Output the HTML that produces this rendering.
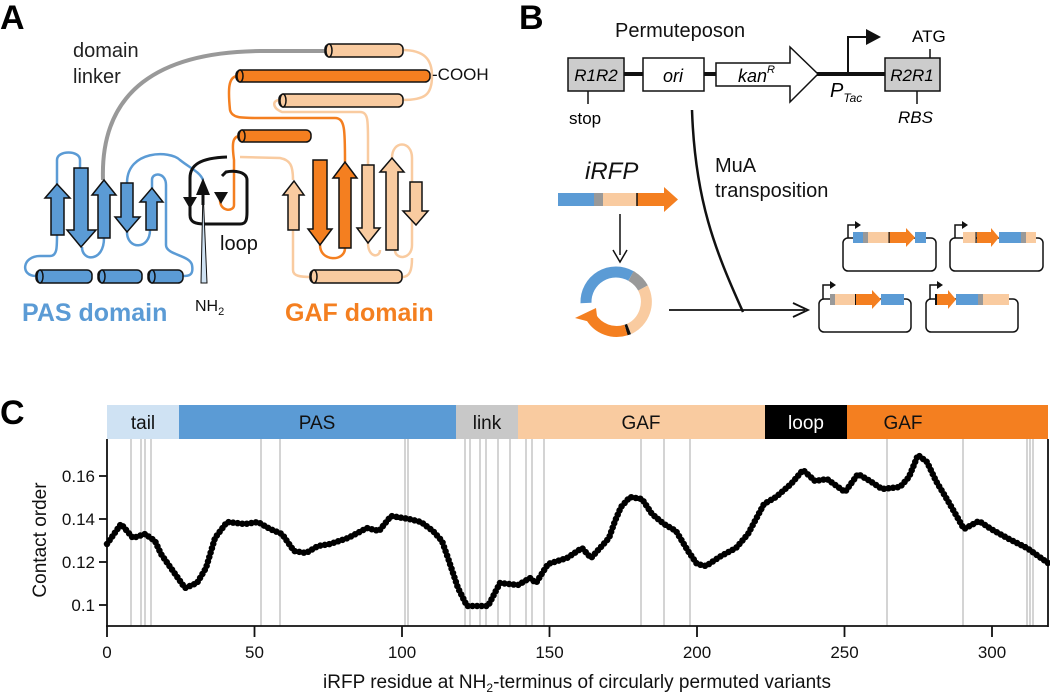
<!DOCTYPE html>
<html><head><meta charset="utf-8"><style>
html,body{margin:0;padding:0;background:#fff}
svg{display:block}
text{font-family:"Liberation Sans",Arial,sans-serif}
</style></head><body>
<svg width="1050" height="692" viewBox="0 0 1050 692" xmlns="http://www.w3.org/2000/svg">
<!-- ============ PANEL A ============ -->
<text x="0" y="29" font-size="34" font-weight="bold">A</text>
<text x="73" y="57" font-size="20" fill="#222">domain</text>
<text x="73" y="83" font-size="20" fill="#222">linker</text>
<path d="M103 180 C100 90 160 52 260 51 L326 51" fill="none" stroke="#999" stroke-width="4"/>
<g fill="none" stroke="#f9cba0" stroke-width="2.5">
<path d="M402 50 C425 50 432 60 432 76 C432 95 425 100 402 100"/>
<path d="M280 100 C272 100 272 108 282 112 L360 112 C368 112 368 120 368 140 L368 168"/>
<path d="M240 157 L280 158 C290 160 293 165 293 180"/>
<path d="M392 158 C392 140 412 140 412 158 L412 245 C412 260 395 260 395 250"/>
<path d="M368 243 C368 258 380 258 380 250"/>
<path d="M293 230 L293 270 C293 276 300 277 312 277"/>
<path d="M402 277 C410 277 412 270 412 258"/>
</g>
<g fill="none" stroke="#f47f20" stroke-width="2.5">
<path d="M238 76 C228 76 228 90 230 110 C232 118 240 118 260 118 L335 118 C345 118 345 130 345 162"/>
<path d="M240 136 C232 136 232 145 234 160 L234 205 C234 212 220 212 220 200"/>
<path d="M320 245 C320 262 345 262 345 248"/>
</g>
<g fill="none" stroke="#5b9bd5" stroke-width="2.5">
<path d="M36 276 C20 276 22 256 40 256 L50 256 C57 256 57 248 57 235"/>
<path d="M57 184 L57 160 C57 150 80 150 80 160 L80 168"/>
<path d="M82 247 C82 262 104 262 104 238"/>
<path d="M127 183 C127 150 170 150 180 160 C190 168 200 172 203 180"/>
<path d="M127 232 C127 250 150 250 150 230"/>
<path d="M152 188 L152 180 C152 172 166 172 166 185 L166 245 C166 255 190 255 192 265 C194 276 188 276 183 276"/>
</g>
<g stroke="#111" stroke-width="1.5">
<rect x="325" y="44" width="78" height="13" rx="5" fill="#f9cba0"/>
<ellipse cx="329" cy="50.5" rx="3" ry="6.5" fill="#f9cba0"/>
<rect x="236" y="70" width="194" height="12" rx="5" fill="#f47f20"/>
<ellipse cx="240" cy="76" rx="3" ry="6" fill="#f47f20"/>
<rect x="279" y="94" width="124" height="13" rx="5" fill="#f9cba0"/>
<ellipse cx="283" cy="100.5" rx="3" ry="6.5" fill="#f9cba0"/>
<rect x="238" y="130" width="73" height="12" rx="5" fill="#f47f20"/>
<ellipse cx="242" cy="136" rx="3" ry="6" fill="#f47f20"/>
<rect x="310" y="270" width="92" height="13" rx="5" fill="#f9cba0"/>
<ellipse cx="314" cy="276.5" rx="3" ry="6.5" fill="#f9cba0"/>
<rect x="36" y="270" width="56" height="13" rx="5" fill="#5b9bd5"/>
<ellipse cx="40" cy="276.5" rx="3" ry="6.5" fill="#5b9bd5"/>
<rect x="98" y="270" width="44" height="13" rx="5" fill="#5b9bd5"/>
<ellipse cx="102" cy="276.5" rx="3" ry="6.5" fill="#5b9bd5"/>
<rect x="148" y="270" width="35" height="13" rx="5" fill="#5b9bd5"/>
<ellipse cx="152" cy="276.5" rx="3" ry="6.5" fill="#5b9bd5"/>
</g>
<text x="432" y="80" font-size="17" fill="#111">-COOH</text>
<g stroke="#111" stroke-width="1.5">
<path d="M51 235 L51 198 L45 198 L57 184 L70 198 L64 198 L64 235 Z" fill="#5b9bd5"/>
<path d="M74 168 L88 168 L88 230 L96 230 L81 247 L67 230 L74 230 Z" fill="#5b9bd5"/>
<path d="M98 238 L98 195 L92 195 L104 180 L116 195 L110 195 L110 238 Z" fill="#5b9bd5"/>
<path d="M121 183 L133 183 L133 217 L140 217 L127 232 L115 217 L121 217 Z" fill="#5b9bd5"/>
<path d="M146 230 L146 202 L140 202 L152 188 L163 202 L157 202 L157 230 Z" fill="#5b9bd5"/>
<path d="M288 230 L288 195 L283 195 L294 181 L304 195 L299 195 L299 230 Z" fill="#f9cba0"/>
<path d="M313 160 L327 160 L327 229 L332 229 L320 245 L308 229 L313 229 Z" fill="#f47f20"/>
<path d="M339 248 L339 178 L333 178 L345 162 L357 178 L351 178 L351 248 Z" fill="#f47f20"/>
<path d="M362 165 L374 165 L374 228 L380 228 L368 243 L357 228 L362 228 Z" fill="#f9cba0"/>
<path d="M386 250 L386 172 L380 172 L392 158 L404 172 L398 172 L398 250 Z" fill="#f9cba0"/>
<path d="M410 182 L422 182 L422 211 L428 211 L416 225 L403 211 L410 211 Z" fill="#f9cba0"/>
</g>
<path d="M227 157 C200 158 190 165 190 178 L190 215 C190 222 195 224 205 224 L240 224 C246 224 247 220 247 212 L247 180 C247 172 235 170 226 172 L222 176" fill="none" stroke="#111" stroke-width="3"/>
<path d="M183 197 L197 197 L190 209 Z" fill="#111"/>
<path d="M214 192 L228 192 L221 204 Z" fill="#111"/>
<path d="M196 195 L203 178 L210 195 Z" fill="#111"/>
<path d="M203 195 L203 205" stroke="#111" stroke-width="3"/>
<path d="M201 283 L203 190 L207 283 Z" fill="#cfe2f3" stroke="#111" stroke-width="1"/>
<text x="220" y="250" font-size="20" fill="#111">loop</text>
<text x="195" y="311" font-size="16" fill="#111">NH<tspan font-size="11" dy="4">2</tspan></text>
<text x="22" y="321" font-size="25" font-weight="bold" fill="#5b9bd5">PAS domain</text>
<text x="285" y="321" font-size="25" font-weight="bold" fill="#f47f20">GAF domain</text>

<!-- ============ PANEL B ============ -->
<text x="519" y="29" font-size="34" font-weight="bold">B</text>
<text x="615" y="37" font-size="20" fill="#111">Permuteposon</text>
<g stroke="#111">
<line x1="624" y1="74" x2="643" y2="74" stroke-width="4"/>
<line x1="704" y1="74" x2="716" y2="74" stroke-width="4"/>
<line x1="816" y1="74" x2="885" y2="74" stroke-width="4"/>
<rect x="568" y="58" width="56" height="33" fill="#ccc" stroke-width="1.5"/>
<rect x="643" y="58" width="61" height="33" fill="#fff" stroke-width="1.5"/>
<rect x="885" y="58" width="55" height="33" fill="#ccc" stroke-width="1.5"/>
<path d="M716 63 L790 63 L790 47 L818 74 L790 102 L790 86 L716 86 Z" fill="#fff" stroke-width="1.5"/>
<path d="M848 74 L848 37 L868 37" fill="none" stroke-width="2"/>
<line x1="930" y1="49" x2="930" y2="58" stroke-width="1.5"/>
<line x1="588" y1="91" x2="588" y2="104" stroke-width="1.5"/>
<line x1="917" y1="91" x2="917" y2="104" stroke-width="1.5"/>
</g>
<path d="M866 29 L881 37 L866 45 Z" fill="#111"/>
<text x="596" y="81" font-size="17" font-style="italic" text-anchor="middle">R1R2</text>
<text x="673" y="82" font-size="18" font-style="italic" text-anchor="middle">ori</text>
<text x="738" y="82" font-size="18" font-style="italic">kan<tspan font-size="11" dy="-9">R</tspan></text>
<text x="912" y="81" font-size="17" font-style="italic" text-anchor="middle">R2R1</text>
<text x="912" y="42" font-size="17">ATG</text>
<text x="569" y="124" font-size="17">stop</text>
<text x="898" y="123" font-size="17" font-style="italic">RBS</text>
<text x="830" y="97" font-size="20" font-style="italic">P<tspan font-size="12" dy="5">Tac</tspan></text>
<path d="M692 110 C695 200 715 250 743 312" fill="none" stroke="#111" stroke-width="2.5"/>
<text x="715" y="172" font-size="20" fill="#111">MuA</text>
<text x="715" y="197" font-size="20" fill="#111">transposition</text>
<text x="585" y="179" font-size="24" font-style="italic" fill="#111">iRFP</text>
<rect x="558" y="193" width="36" height="13" fill="#5b9bd5"/>
<rect x="594" y="193" width="9" height="13" fill="#999"/>
<rect x="603" y="193" width="34" height="13" fill="#f9cba0"/>
<path d="M637 193 L664 193 L664 187 L678 199.5 L664 212 L664 206 L637 206 Z" fill="#f47f20"/>
<line x1="637" y1="193" x2="637" y2="206" stroke="#111" stroke-width="1.5"/>
<line x1="620" y1="214" x2="620" y2="255" stroke="#111" stroke-width="1.5"/>
<path d="M613 250 L620 262 L627 250" fill="none" stroke="#111" stroke-width="1.5"/>
<g fill="none" stroke-width="11">
<path d="M586 303 A30 30 0 0 1 631 276" stroke="#5b9bd5"/>
<path d="M631 276 A30 30 0 0 1 643 288" stroke="#999"/>
<path d="M643 288 A30 30 0 0 1 629 329" stroke="#f9cba0"/>
<path d="M629 329 A30 30 0 0 1 626 330" stroke="#111"/>
<path d="M626 330 A30 30 0 0 1 591 317" stroke="#f47f20"/>
</g>
<path d="M575 318 L596 308 L598 324 Z" fill="#f47f20"/>
<line x1="669" y1="310" x2="805" y2="310" stroke="#111" stroke-width="1.8"/>
<path d="M793 303 L808 310 L793 317" fill="none" stroke="#111" stroke-width="1.8"/>
<g fill="none" stroke="#111" stroke-width="1.5">
<rect x="843" y="238" width="93" height="33" rx="5"/>
<rect x="950" y="238" width="93" height="33" rx="5"/>
<rect x="819" y="299" width="92" height="33" rx="5"/>
<rect x="926" y="299" width="92" height="33" rx="5"/>
<path d="M848 238 L848 225 L856 225"/>
<path d="M955 238 L955 225 L963 225"/>
<path d="M823 299 L823 285 L831 285"/>
<path d="M930 299 L930 285 L938 285"/>
</g>
<g fill="#111">
<path d="M855 221 L861 225 L855 229 Z"/><path d="M962 221 L968 225 L962 229 Z"/>
<path d="M830 281 L836 285 L830 289 Z"/><path d="M937 281 L943 285 L937 289 Z"/>
</g>
<g>
<rect x="853" y="232" width="10" height="11" fill="#5b9bd5"/><rect x="863" y="232" width="5" height="11" fill="#999"/><rect x="868" y="232" width="21" height="11" fill="#f9cba0"/>
<path d="M889 232 L906 232 L906 228 L915 237.5 L906 247 L906 243 L889 243 Z" fill="#f47f20"/><rect x="888.5" y="232" width="1.2" height="11" fill="#111"/>
<rect x="915" y="232" width="11" height="11" fill="#5b9bd5"/>
<rect x="963" y="232" width="13" height="11" fill="#f9cba0"/><rect x="975.5" y="232" width="1.2" height="11" fill="#111"/>
<path d="M977 232 L991 232 L991 228 L999 237.5 L991 247 L991 243 L977 243 Z" fill="#f47f20"/>
<rect x="999" y="232" width="22" height="11" fill="#5b9bd5"/><rect x="1021" y="232" width="5" height="11" fill="#999"/><rect x="1026" y="232" width="10" height="11" fill="#f9cba0"/>
<rect x="830" y="294" width="5" height="11" fill="#999"/><rect x="835" y="294" width="20" height="11" fill="#f9cba0"/><rect x="855" y="294" width="1.2" height="11" fill="#111"/>
<path d="M856 294 L872 294 L872 290 L881 299.5 L872 309 L872 305 L856 305 Z" fill="#f47f20"/>
<rect x="881" y="294" width="23" height="11" fill="#5b9bd5"/>
<rect x="935" y="294" width="2" height="11" fill="#111"/>
<path d="M937 294 L948 294 L948 290 L956 299.5 L948 309 L948 305 L937 305 Z" fill="#f47f20"/>
<rect x="956" y="294" width="22" height="11" fill="#5b9bd5"/><rect x="978" y="294" width="5" height="11" fill="#999"/><rect x="983" y="294" width="26" height="11" fill="#f9cba0"/>
</g>

<!-- ============ PANEL C ============ -->
<text x="0" y="424" font-size="34" font-weight="bold">C</text>
<rect x="107" y="405" width="72" height="34" fill="#cfe2f3"/>
<rect x="179" y="405" width="277" height="34" fill="#5b9bd5"/>
<rect x="456" y="405" width="62" height="34" fill="#c8c8c8"/>
<rect x="518" y="405" width="247" height="34" fill="#f9cba0"/>
<rect x="765" y="405" width="82" height="34" fill="#000"/>
<rect x="847" y="405" width="201" height="34" fill="#f47f20"/>
<g font-size="19" text-anchor="middle" fill="#111">
<text x="143" y="429">tail</text><text x="317" y="429">PAS</text><text x="487" y="429">link</text>
<text x="641" y="429">GAF</text><text x="806" y="429" fill="#fff">loop</text><text x="903" y="429">GAF</text>
</g>
<g stroke="#aaa" stroke-width="1">
<line x1="131" y1="439" x2="131" y2="626"/><line x1="141" y1="439" x2="141" y2="626"/><line x1="145" y1="439" x2="145" y2="626"/><line x1="151" y1="439" x2="151" y2="626"/>
<line x1="261" y1="439" x2="261" y2="626"/><line x1="280" y1="439" x2="280" y2="626"/><line x1="405" y1="439" x2="405" y2="626"/><line x1="408" y1="439" x2="408" y2="626"/>
<line x1="465" y1="439" x2="465" y2="626"/><line x1="470" y1="439" x2="470" y2="626"/><line x1="480" y1="439" x2="480" y2="626"/><line x1="486" y1="439" x2="486" y2="626"/>
<line x1="498" y1="439" x2="498" y2="626"/><line x1="510" y1="439" x2="510" y2="626"/><line x1="526" y1="439" x2="526" y2="626"/><line x1="532" y1="439" x2="532" y2="626"/>
<line x1="544" y1="439" x2="544" y2="626"/><line x1="641" y1="439" x2="641" y2="626"/><line x1="664" y1="439" x2="664" y2="626"/><line x1="690" y1="439" x2="690" y2="626"/>
<line x1="887" y1="439" x2="887" y2="626"/><line x1="963" y1="439" x2="963" y2="626"/><line x1="1027" y1="439" x2="1027" y2="626"/><line x1="1030" y1="439" x2="1030" y2="626"/><line x1="1033" y1="439" x2="1033" y2="626"/>
</g>
<g stroke="#111" stroke-width="1.8">
<line x1="107" y1="439" x2="107" y2="627"/>
<line x1="106" y1="626" x2="1048" y2="626"/>
<line x1="1048" y1="439" x2="1048" y2="627"/>
<line x1="99" y1="476" x2="107" y2="476"/><line x1="99" y1="519" x2="107" y2="519"/><line x1="99" y1="562" x2="107" y2="562"/><line x1="99" y1="605" x2="107" y2="605"/>
<line x1="107" y1="626" x2="107" y2="637"/><line x1="254.5" y1="626" x2="254.5" y2="637"/><line x1="402" y1="626" x2="402" y2="637"/><line x1="549.5" y1="626" x2="549.5" y2="637"/>
<line x1="697" y1="626" x2="697" y2="637"/><line x1="844.5" y1="626" x2="844.5" y2="637"/><line x1="992" y1="626" x2="992" y2="637"/>
</g>
<g font-size="17" fill="#111" text-anchor="end">
<text x="95" y="482">0.16</text><text x="95" y="525">0.14</text><text x="95" y="568">0.12</text><text x="95" y="611">0.1</text>
</g>
<g font-size="17" fill="#111" text-anchor="middle">
<text x="107" y="658">0</text><text x="254.5" y="658">50</text><text x="402" y="658">100</text><text x="549.5" y="658">150</text>
<text x="697" y="658">200</text><text x="844.5" y="658">250</text><text x="992" y="658">300</text>
</g>
<text x="577" y="688" font-size="19" fill="#111" text-anchor="middle">iRFP residue at NH<tspan font-size="12" dy="4">2</tspan><tspan dy="-4">-terminus of circularly permuted variants</tspan></text>
<text transform="translate(46,540) rotate(-90)" font-size="19" fill="#111" text-anchor="middle">Contact order</text>
<polyline fill="none" stroke="#000" stroke-width="6.5" stroke-linecap="round" stroke-dasharray="0 4.6"
points="107,544 121,524 133,538 145,534 155,541 161,554 173,571 185,588 197,583 206,568 215,538 227,522 245,524 258,522 270,529 282,534 294,551 306,553 318,546 330,544 348,538 367,528 379,531 391,516 409,519 421,522 433,531 442,541 448,558 458,588 467,606 488,606 500,583 518,585 530,578 536,583 548,564 567,558 582,548 591,558 609,538 615,521 621,507 630,497 642,499 652,514 664,524 676,531 688,551 697,564 706,566 721,556 736,548 748,534 764,504 776,497 791,484 803,470 815,481 827,479 845,492 858,474 870,481 882,489 900,487 909,477 918,455 927,462 936,481 948,501 964,529 979,521 991,529 1009,539 1027,548 1048,563"/>
</svg>
</body></html>
